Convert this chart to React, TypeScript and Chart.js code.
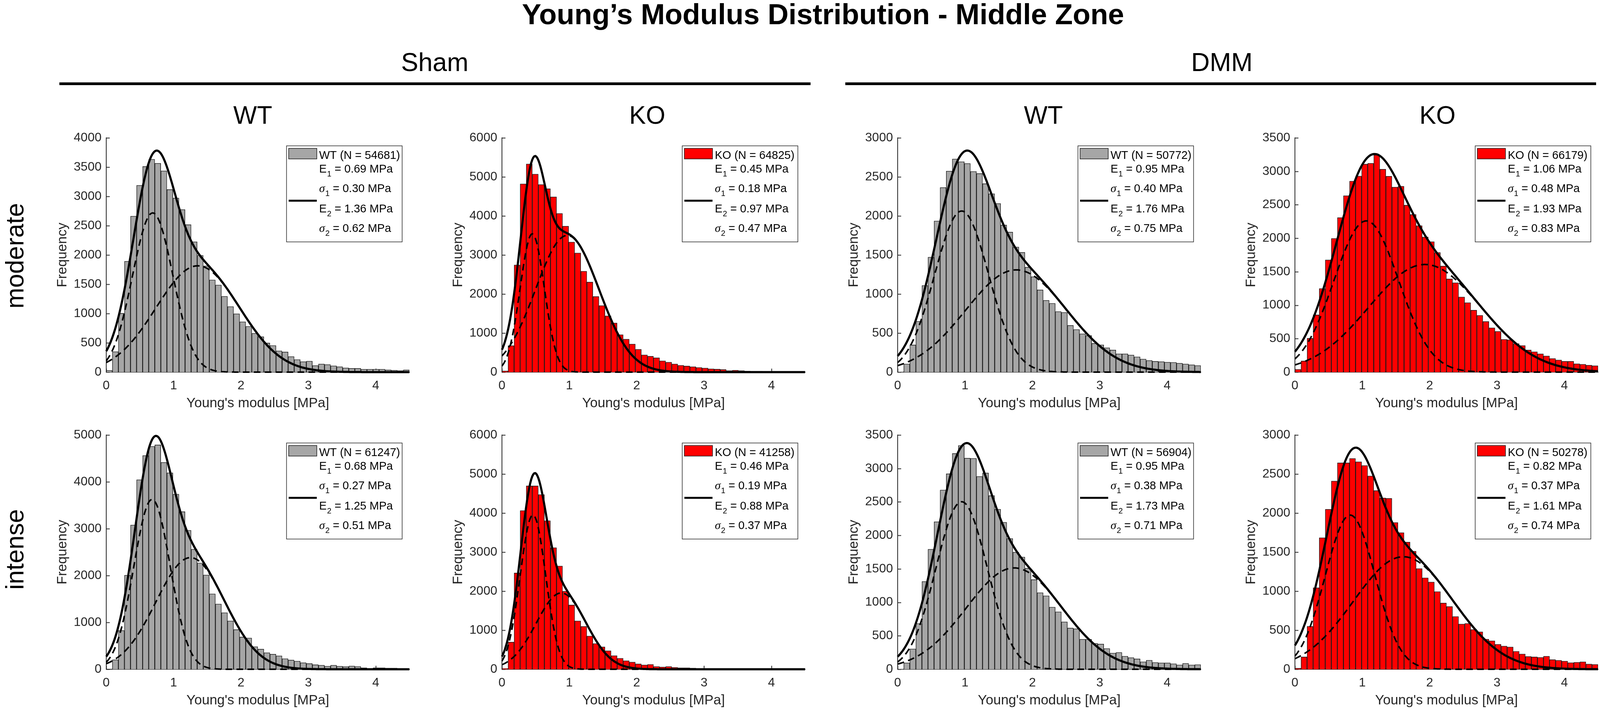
import React, { useEffect, useRef } from "react";
import { Chart, registerables } from "chart.js";

Chart.register(...registerables);

// ---------------- data ----------------
const NUM_BINS = 50;
const BIN_WIDTH = 0.09; // MPa
const X_TICKS = [0, 1, 2, 3, 4];
const X_MAX = 4.5;

// panel order: Sham-WT, Sham-KO, DMM-WT, DMM-KO (moderate), then same for intense
const shamWTModerate = [30, 350, 1005, 1893, 2663, 3190, 3511, 3635, 3566, 3436, 3117, 2972, 2776, 2518, 2226, 1994, 1815, 1575, 1488, 1294, 1120, 996, 860, 781, 663, 605, 498, 454, 362, 344, 266, 214, 179, 188, 113, 139, 130, 107, 93, 72, 64, 64, 49, 49, 49, 49, 38, 32, 26, 38];
const shamKOModerate = [31, 678, 2743, 4822, 5331, 5072, 4804, 4697, 4488, 4064, 3738, 3332, 3051, 2583, 2306, 1936, 1704, 1441, 1258, 959, 843, 718, 584, 442, 406, 366, 290, 254, 210, 174, 156, 138, 120, 103, 85, 76, 67, 40, 49, 36, 27, 22, 22, 18, 13, 10, 8, 0, 0, 0];
const dmmWTModerate = [5, 105, 348, 651, 1109, 1472, 1936, 2364, 2574, 2730, 2695, 2672, 2570, 2543, 2413, 2284, 2159, 1883, 1793, 1602, 1533, 1343, 1222, 1053, 919, 881, 776, 765, 598, 546, 491, 468, 368, 350, 312, 283, 234, 234, 219, 196, 167, 149, 138, 134, 127, 125, 114, 105, 94, 85];
const dmmKOModerate = [42, 167, 505, 856, 1249, 1676, 1998, 2308, 2636, 2854, 2930, 3107, 3120, 3245, 3032, 2927, 2764, 2777, 2495, 2355, 2188, 2019, 1949, 1787, 1585, 1392, 1335, 1122, 1038, 926, 848, 757, 661, 609, 489, 484, 427, 398, 330, 305, 273, 242, 203, 182, 161, 161, 125, 117, 104, 96];
const shamWTIntense = [0, 204, 829, 2007, 3078, 4045, 4561, 4758, 4788, 4416, 4193, 3736, 3364, 2967, 2561, 2268, 2011, 1610, 1394, 1208, 1033, 848, 688, 669, 483, 431, 353, 323, 286, 227, 197, 175, 141, 123, 97, 86, 67, 86, 67, 56, 71, 59, 30, 19, 30, 30, 26, 26, 11, 7];
const shamKOIntense = [22, 696, 2467, 4064, 4697, 4697, 4474, 3805, 3114, 2645, 1998, 1646, 1240, 1097, 852, 660, 575, 473, 348, 281, 218, 183, 138, 112, 125, 71, 58, 71, 49, 36, 36, 31, 0, 0, 0, 0, 0, 0, 0, 0, 0, 0, 0, 0, 0, 0, 0, 0, 0, 0];
const dmmWTIntense = [5, 96, 304, 684, 1312, 1793, 2204, 2678, 2920, 3224, 3344, 3154, 3151, 2881, 2933, 2594, 2391, 2196, 1954, 1749, 1676, 1509, 1340, 1145, 1098, 929, 859, 708, 617, 606, 448, 448, 388, 377, 310, 242, 252, 195, 174, 156, 112, 135, 101, 96, 96, 83, 65, 88, 65, 70];
const dmmKOIntense = [13, 158, 551, 1044, 1684, 2048, 2411, 2643, 2643, 2699, 2657, 2610, 2476, 2288, 2193, 2188, 1880, 1749, 1628, 1512, 1289, 1171, 1117, 995, 848, 803, 676, 580, 587, 509, 480, 386, 364, 319, 297, 286, 230, 196, 163, 158, 152, 167, 123, 114, 105, 85, 89, 96, 67, 62];

const histCounts = [shamWTModerate, shamKOModerate, dmmWTModerate, dmmKOModerate, shamWTIntense, shamKOIntense, dmmWTIntense, dmmKOIntense];

const groupLabels = ["WT", "KO", "WT", "KO", "WT", "KO", "WT", "KO"];
const sampleN = [54681, 64825, 50772, 66179, 61247, 41258, 56904, 50278];
const fitE1 = [0.69, 0.45, 0.95, 1.06, 0.68, 0.46, 0.95, 0.82];
const fitS1 = [0.30, 0.18, 0.40, 0.48, 0.27, 0.19, 0.38, 0.37];
const fitE2 = [1.36, 0.97, 1.76, 1.93, 1.25, 0.88, 1.73, 1.61];
const fitS2 = [0.62, 0.47, 0.75, 0.83, 0.51, 0.37, 0.71, 0.74];
const fitPeak1 = [2718, 3542, 2063, 2259, 3625, 3952, 2503, 1974];
const fitPeak2 = [1815, 3502, 1309, 1608, 2383, 1954, 1514, 1441];
const yMaxes = [4000, 6000, 3000, 3500, 5000, 6000, 3500, 3000];
const ySteps = [500, 1000, 500, 500, 1000, 1000, 500, 500];

const mainTitle = "Young\u2019s Modulus Distribution - Middle Zone";
const surgeryLabels = ["Sham", "DMM"];
const genotypeLabels = ["WT", "KO", "WT", "KO"];
const rowLabels = ["moderate", "intense"];
const xAxisTitle = "Young's modulus [MPa]";
const yAxisTitle = "Frequency";

// ---------------- styles / layout ----------------
const FONT = "'Liberation Sans', Arial, Helvetica, sans-serif";
const SERIF = "'Liberation Serif', 'Times New Roman', serif";
const AXIS = "#262626";
const GREY = "#a6a6a6";
const RED = "#ff0000";
const COL_LEFT = [272, 1285, 2298, 3315];
const ROW_TOP = [353, 1114];
const PLOT_W = 776;
const PLOT_H = 600;
const PAD_L = 140;
const PAD_T = 40;
const PAD_R = 30;
const PAD_B = 110;

Chart.defaults.font.family = FONT;

function gauss(x: number, a: number, m: number, s: number) {
  return a * Math.exp(-((x - m) * (x - m)) / (2 * s * s));
}

const inwardTicks = {
  id: "inwardTicks",
  beforeDatasetsDraw(chart: any) {
    const ctx = chart.ctx;
    const { left, bottom } = chart.chartArea;
    const xs = chart.scales.x;
    const ys = chart.scales.y;
    ctx.save();
    ctx.strokeStyle = AXIS;
    ctx.lineWidth = 2;
    ctx.beginPath();
    ys.ticks.forEach((t: any) => {
      const y = Math.round(ys.getPixelForValue(t.value)) + 0.5;
      ctx.moveTo(left, y);
      ctx.lineTo(left + 9, y);
    });
    xs.ticks.forEach((t: any) => {
      const x = Math.round(xs.getPixelForValue(t.value)) + 0.5;
      ctx.moveTo(x, bottom);
      ctx.lineTo(x, bottom - 9);
    });
    ctx.stroke();
    ctx.restore();
  },
};

function makeLegendPlugin(idx: number, color: string) {
  return {
    id: "fitLegend",
    afterDraw(chart: any) {
      const ctx = chart.ctx;
      const { right, top } = chart.chartArea;
      const bw = 296;
      const bh = 246;
      const bx = right - 19 - bw;
      const by = top + 20;
      ctx.save();
      ctx.fillStyle = "#ffffff";
      ctx.fillRect(bx, by, bw, bh);
      ctx.strokeStyle = AXIS;
      ctx.lineWidth = 1.5;
      ctx.strokeRect(bx + 0.5, by + 0.5, bw, bh);
      // histogram swatch
      ctx.fillStyle = color;
      ctx.fillRect(bx + 6, by + 7, 72, 27);
      ctx.strokeStyle = "#1a1a1a";
      ctx.lineWidth = 1.5;
      ctx.strokeRect(bx + 6, by + 7, 72, 27);
      // line swatch
      ctx.strokeStyle = "#000";
      ctx.lineWidth = 5;
      ctx.beginPath();
      ctx.moveTo(bx + 6, by + 141);
      ctx.lineTo(bx + 78, by + 141);
      ctx.stroke();
      // texts
      ctx.fillStyle = "#000";
      ctx.textAlign = "left";
      ctx.textBaseline = "alphabetic";
      ctx.font = `29px ${FONT}`;
      ctx.fillText(`${groupLabels[idx]} (N = ${sampleN[idx]})`, bx + 84, by + 34);
      const rows: [string, string, number, number][] = [
        ["E", "1", fitE1[idx], by + 69],
        ["\u03C3", "1", fitS1[idx], by + 119],
        ["E", "2", fitE2[idx], by + 171],
        ["\u03C3", "2", fitS2[idx], by + 221],
      ];
      rows.forEach(([sym, sub, val, base]) => {
        let x = bx + 84;
        ctx.font = sym === "E" ? `29px ${FONT}` : `italic 30px ${SERIF}`;
        ctx.fillText(sym, x, base);
        x += ctx.measureText(sym).width + 1;
        ctx.font = `20px ${FONT}`;
        ctx.fillText(sub, x, base + 10);
        x += ctx.measureText(sub).width;
        ctx.font = `29px ${FONT}`;
        ctx.fillText(` = ${val.toFixed(2)} MPa`, x, base);
      });
      ctx.restore();
    },
  };
}

function Panel({ idx }: { idx: number }) {
  const ref = useRef<HTMLCanvasElement>(null);
  const row = Math.floor(idx / 4);
  const col = idx % 4;
  const W = PAD_L + PLOT_W + PAD_R;
  const H = PAD_T + PLOT_H + PAD_B;
  const color = groupLabels[idx] === "KO" ? RED : GREY;

  useEffect(() => {
    if (!ref.current) return;
    const counts = histCounts[idx];
    const bars = counts.slice(0, NUM_BINS).map((c, i) => ({ x: (i + 0.5) * BIN_WIDTH, y: c }));
    const grid: number[] = [];
    for (let k = 0; k <= 300; k++) grid.push((k * X_MAX) / 300);
    const comp1 = grid.map((x) => ({ x, y: gauss(x, fitPeak1[idx], fitE1[idx], fitS1[idx]) }));
    const comp2 = grid.map((x) => ({ x, y: gauss(x, fitPeak2[idx], fitE2[idx], fitS2[idx]) }));
    const total = grid.map((x, k) => ({ x, y: comp1[k].y + comp2[k].y }));
    const yTicks: number[] = [];
    for (let v = 0; v <= yMaxes[idx]; v += ySteps[idx]) yTicks.push(v);

    const chart = new Chart(ref.current, {
      type: "bar",
      data: {
        datasets: [
          { type: "line", data: total, borderColor: "#000", borderWidth: 5.5, pointRadius: 0, tension: 0, fill: false, order: 0, clip: false } as any,
          { type: "line", data: comp1, borderColor: "#000", borderWidth: 4, borderDash: [17, 11], pointRadius: 0, tension: 0, fill: false, order: 1, clip: false } as any,
          { type: "line", data: comp2, borderColor: "#000", borderWidth: 4, borderDash: [17, 11], pointRadius: 0, tension: 0, fill: false, order: 1, clip: false } as any,
          { type: "bar", data: bars, backgroundColor: color, borderColor: "#1a1a1a", borderWidth: 1.5, barPercentage: 1, categoryPercentage: 1, order: 2 } as any,
        ],
      },
      options: {
        animation: false,
        responsive: false,
        devicePixelRatio: 1,
        layout: { padding: { top: PAD_T, right: PAD_R, left: 0, bottom: 0 } },
        plugins: { legend: { display: false }, tooltip: { enabled: false } },
        scales: {
          x: {
            type: "linear",
            min: 0,
            max: X_MAX,
            offset: false,
            afterBuildTicks: (s: any) => {
              s.ticks = X_TICKS.map((v) => ({ value: v }));
            },
            afterFit: (s: any) => {
              s.height = PAD_B;
            },
            grid: { display: false, drawTicks: false, offset: false },
            border: { display: true, color: AXIS, width: 2 },
            ticks: { padding: 16, color: AXIS, font: { size: 32 }, maxRotation: 0, autoSkip: false, callback: (v: any) => String(v) },
            title: { display: true, text: xAxisTitle, color: AXIS, font: { size: 35 }, padding: { top: 0, bottom: 9 } },
          },
          y: {
            type: "linear",
            min: 0,
            max: yMaxes[idx],
            afterBuildTicks: (s: any) => {
              s.ticks = yTicks.map((v) => ({ value: v }));
            },
            afterFit: (s: any) => {
              s.width = PAD_L;
            },
            grid: { display: false, drawTicks: false },
            border: { display: true, color: AXIS, width: 2 },
            ticks: { padding: 12, color: AXIS, font: { size: 32 }, autoSkip: false, callback: (v: any) => String(v) },
            title: { display: true, text: yAxisTitle, color: AXIS, font: { size: 35 }, padding: { top: 7, bottom: 0 } },
          },
        },
      } as any,
      plugins: [inwardTicks, makeLegendPlugin(idx, color)] as any,
    });
    return () => chart.destroy();
  }, [idx]);

  return (
    <canvas
      ref={ref}
      width={W}
      height={H}
      style={{ position: "absolute", left: COL_LEFT[col] - PAD_L, top: ROW_TOP[row] - PAD_T, width: W, height: H }}
    />
  );
}

const textBase: React.CSSProperties = {
  position: "absolute",
  lineHeight: 1,
  whiteSpace: "nowrap",
  color: "#000",
  fontFamily: FONT,
};

export default function App() {
  useEffect(() => {
    document.body.style.margin = "0";
    document.body.style.overflow = "hidden";
  }, []);
  const genoCenters = [647, 1657, 2671, 3680];
  return (
    <div style={{ position: "absolute", left: 0, top: 0, width: 4118, height: 1826, background: "#fff", overflow: "hidden" }}>
      <div style={{ ...textBase, left: 2107, top: 0, fontSize: 74, fontWeight: "bold", transform: "translateX(-50%)" }}>{mainTitle}</div>
      <div style={{ ...textBase, left: 1113, top: 126, fontSize: 66, transform: "translateX(-50%)" }}>{surgeryLabels[0]}</div>
      <div style={{ ...textBase, left: 3128, top: 126, fontSize: 66, transform: "translateX(-50%)" }}>{surgeryLabels[1]}</div>
      <div style={{ position: "absolute", left: 152, top: 211, width: 1923, height: 7, background: "#000" }} />
      <div style={{ position: "absolute", left: 2164, top: 211, width: 1922, height: 7, background: "#000" }} />
      {genotypeLabels.map((g, i) => (
        <div key={"g" + i} style={{ ...textBase, left: genoCenters[i], top: 263, fontSize: 64, transform: "translateX(-50%)" }}>{g}</div>
      ))}
      <div style={{ ...textBase, left: 38, top: 655, fontSize: 64, transform: "translate(-50%, -50%) rotate(-90deg)" }}>{rowLabels[0]}</div>
      <div style={{ ...textBase, left: 38, top: 1407, fontSize: 64, transform: "translate(-50%, -50%) rotate(-90deg)" }}>{rowLabels[1]}</div>
      {histCounts.map((_, i) => (
        <Panel key={i} idx={i} />
      ))}
    </div>
  );
}
